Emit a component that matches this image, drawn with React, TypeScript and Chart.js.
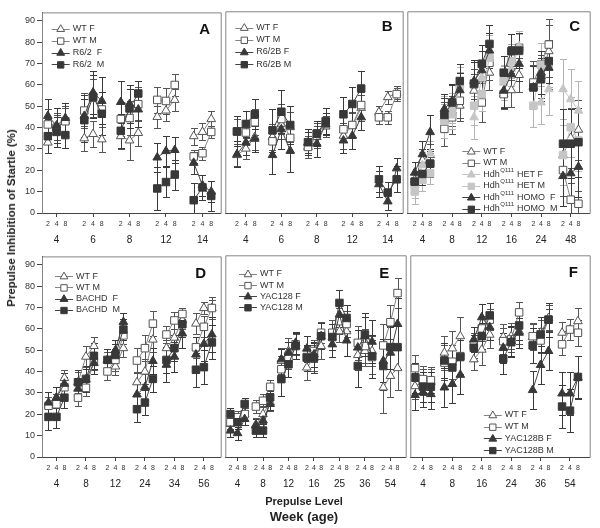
import React, { useEffect, useRef } from "react";
import { Chart, registerables } from "chart.js";

Chart.register(...registerables);

const FONT = "Arial, 'Liberation Sans', Helvetica, sans-serif";

// ---------------- DATA ----------------
const PREPULSE = ["2", "4", "8"];
const Y_TICKS = [0, 10, 20, 30, 40, 50, 60, 70, 80, 90];

// Panel A
const A_weeks = ["4", "6", "8", "12", "14"];
const A_wtF = [33, 40, 43, 35, 37, 34.5, 36, 34, 37.5, 45, 48, 53, 36, 38, 44];
const A_wtM = [41.5, 40, 43, 48, 54, 48.5, 44, 44.5, 51, 53, 52.5, 60, 26.5, 28, 38];
const A_r62F = [45.5, 41, 44.5, 45.5, 56.5, 52.5, 52, 51, 48.5, 26, 29, 29.5, 23.5, 13, 10];
const A_r62M = [36, 38, 36.5, 43.5, 54.5, 46.5, 38.5, 49, 56, 11.5, 14.5, 18, 6, 12, 8];
const A_wtF_e = [5, 6, 6, 6, 6, 6, 6, 9, 6, 5, 5, 5, 4, 4, 4];
const A_wtM_e = [7, 7, 7, 8, 9, 8, 8, 8, 8, 6, 6, 5, 3, 3, 3];
const A_r62F_e = [8, 8, 7, 10, 10, 11, 10, 9, 8, 7, 7, 6, 5, 5, 5];
const A_r62M_e = [8, 7, 6, 10, 10, 10, 8, 9, 6, 10, 7, 7, 8, 6, 7];

// Panel B
const B_weeks = ["4", "6", "8", "12", "14"];
const B_wtF = [27, 30, 35.4, 35.4, 41.5, 40, 30.8, 35.4, 40.3, 36, 40.8, 49, 47, 54, 56];
const B_wtM = [38, 37.5, 42.3, 33.4, 43.8, 35, 30.8, 37, 41.5, 39, 41, 50.3, 44.6, 44.6, 55.4];
const B_r6F = [27.4, 32.8, 34.6, 27, 39, 29, 32.8, 32.3, 41.5, 33.8, 36, 44.6, 13.4, 5.4, 20.8];
const B_r6M = [38, 41.5, 46, 38.5, 47.2, 41, 33, 37, 42.8, 46, 50.8, 58, 15.7, 9.5, 15.7];
const B_wtF_e = [5, 5, 6, 6, 7, 7, 5, 5, 5, 6, 6, 6, 3, 3, 3];
const B_wtM_e = [6, 6, 6, 7, 7, 7, 5, 5, 5, 6, 6, 6, 3, 3, 3];
const B_r6F_e = [6, 6, 6, 9, 9, 10, 5, 6, 5, 6, 6, 6, 6, 4, 5];
const B_r6M_e = [7, 6, 7, 10, 10, 9, 6, 6, 6, 8, 8, 8, 6, 5, 6];

// Panel C
const C_weeks = ["4", "8", "12", "16", "24", "48"];
const C_wtF = [15.4, 24.6, 27, 44.6, 47.7, 50, 57, 62.3, 65.4, 55.4, 57.2, 64.3, 59.2, 63.8, 75.4, 27, 35, 38.8];
const C_wtM = [14.6, 21.5, 23, 39.2, 44.6, 52.3, 60, 51.5, 70, 55.4, 70, 77, 60.8, 69.2, 78.5, 20, 6.2, 4.3];
const C_hetF = [13, 22.3, 27.7, 47.7, 49, 60, 44.6, 63, 73.8, 60.8, 67, 77.7, 50, 51.5, 57.7, 57.7, 53, 47.7];
const C_hetM = [10, 15.4, 18.5, 43, 46, 58.5, 50, 55.4, 72.3, 61.5, 70.8, 75.4, 50, 69, 68.5, 27, 40, 33.8];
const C_homF = [18.8, 27.4, 37.7, 48.5, 52.3, 57.2, 61.5, 66.5, 75.7, 57, 64.6, 69.5, 58.5, 65.4, 67.7, 17.2, 18.5, 21.5];
const C_homM = [14.6, 18.2, 23, 45.7, 51.5, 61.5, 60.3, 69.5, 78.8, 65.4, 75.4, 75.7, 58.5, 62.3, 70.8, 32.3, 32.3, 33];
const C_wtF_e = [4, 5, 5, 7, 7, 7, 8, 8, 8, 6, 8, 8, 10, 10, 12, 14, 14, 14];
const C_wtM_e = [5, 5, 5, 8, 8, 8, 7, 9, 8, 7, 8, 8, 10, 10, 12, 12, 8, 6];
const C_hetF_e = [6, 6, 6, 7, 7, 8, 10, 9, 9, 8, 8, 7, 10, 10, 12, 14, 14, 14];
const C_hetM_e = [6, 5, 5, 8, 7, 7, 9, 8, 8, 7, 8, 8, 10, 10, 10, 14, 14, 14];
const C_homF_e = [5, 6, 8, 7, 8, 8, 10, 9, 8, 8, 8, 8, 10, 10, 10, 14, 14, 14];
const C_homM_e = [5, 5, 6, 8, 8, 8, 10, 9, 9, 8, 8, 8, 10, 10, 10, 16, 16, 16];

// Panel D
const D_weeks = ["4", "8", "12", "24", "34", "56"];
const D_wtF = [24.2, 27.8, 37, 35, 47, 52, 45.2, 42.4, 51, 35, 40, 55, 51, 55.9, 64, 62.5, 69.8, 69.8];
const D_wtM = [24, 24.7, 32.7, 27.8, 32.4, 44.8, 40.1, 45.5, 57, 45.2, 51, 62.5, 57.4, 64, 67, 51.4, 61, 69.8];
const D_bacF = [25.5, 27.8, 34.3, 32, 36.3, 44, 45.5, 50, 63.3, 29.3, 32.7, 45, 43.2, 47, 57.9, 48, 53, 57.4];
const D_bacM = [18.8, 18.8, 27.8, 35, 36.6, 47.4, 45.5, 47.8, 59.7, 22.4, 25.5, 36.6, 45.5, 51, 62.2, 40.9, 42.1, 53.7];
const D_wtF_e = [4, 5, 4, 5, 5, 4, 4, 4, 4, 5, 6, 6, 4, 4, 4, 5, 3, 4];
const D_wtM_e = [4, 5, 5, 4, 4, 4, 4, 5, 4, 6, 6, 6, 4, 4, 3, 5, 5, 5];
const D_bacF_e = [5, 5, 5, 5, 5, 5, 5, 5, 4, 6, 6, 6, 8, 7, 7, 8, 8, 8];
const D_bacM_e = [6, 5, 5, 6, 6, 6, 5, 5, 5, 6, 6, 6, 6, 6, 6, 8, 8, 8];

// Panel E
const E_weeks = ["4", "8", "12", "16", "25", "36", "54"];
const E_wtF = [15.4, 16.2, 20, 15.1, 20, 25.5, 44.8, 49.4, 51.7, 41.7, 46.3, 51.7, 55.9, 58.6, 58.6, 47.5, 49.4, 49.4, 32.4, 37.8, 41.4];
const E_wtM = [16.2, 18.5, 20, 23.5, 26.2, 32.7, 40.9, 45.8, 52.5, 46.6, 49.4, 57.9, 57.9, 63.3, 62, 53.2, 51.7, 46.6, 52, 62.8, 76.4];
const E_yF = [12.3, 11.1, 17.7, 14.7, 17, 24.7, 45.5, 48.6, 53.2, 50.5, 47.8, 56.3, 52.5, 66.4, 54.3, 51, 56.3, 53.7, 44.8, 48.6, 62];
const E_yM = [20, 16.2, 24.7, 12.3, 12.3, 27.8, 36.3, 43.2, 51.7, 46.3, 46.3, 56.3, 55.9, 71.8, 64.8, 42.4, 57.1, 47, 42.4, 51.2, 51.2];
const E_wtF_e = [3, 3, 3, 3, 4, 4, 6, 6, 6, 6, 6, 6, 6, 5, 5, 7, 7, 7, 12, 10, 10];
const E_wtM_e = [3, 3, 3, 3, 3, 3, 6, 5, 5, 5, 5, 5, 6, 6, 6, 8, 8, 8, 10, 8, 7];
const E_yF_e = [3, 3, 3, 3, 3, 3, 5, 5, 5, 6, 6, 6, 6, 6, 7, 8, 9, 10, 10, 12, 12];
const E_yM_e = [3, 3, 3, 3, 3, 3, 8, 6, 6, 6, 7, 6, 6, 6, 6, 10, 10, 10, 11, 10, 10];

// Panel F
const F_weeks = ["4", "8", "16", "24", "36", "54"];
const F_wtF = [33, 35, 35, 48.6, 50.6, 56.3, 45.5, 50, 57, 55.9, 56.3, 58.6, 55.9, 57.9, 64.8, 57.9, 59.4, 63.3];
const F_wtM = [41.4, 36.3, 35.8, 44, 44.4, 47, 52, 59.9, 64, 54, 54.8, 67.4, 56.3, 54.3, 64, 52.5, 59.4, 57.9];
const F_yF = [28.9, 30.1, 29.3, 32.4, 34, 38.3, 54.8, 65.1, 60.5, 50.9, 54, 57.9, 31.2, 42.9, 49.4, 29.6, 29.6, 37];
const F_yM = [37, 32.7, 32.7, 45, 41.7, 46.6, 50.9, 56.3, 66, 45.8, 53.5, 61.3, 52, 57.1, 64, 23.5, 21.6, 37.3];
const F_wtF_e = [6, 6, 6, 8, 8, 9, 5, 7, 6, 6, 6, 6, 6, 6, 6, 5, 5, 6];
const F_wtM_e = [6, 6, 6, 8, 8, 9, 6, 6, 5, 6, 6, 5, 6, 6, 5, 5, 5, 6];
const F_yF_e = [7, 7, 7, 9, 9, 9, 6, 6, 6, 7, 7, 7, 9, 9, 9, 10, 10, 10];
const F_yM_e = [7, 7, 7, 8, 8, 8, 6, 6, 6, 7, 7, 7, 8, 8, 8, 10, 10, 10];

// ---------------- STYLE / CONFIG ----------------
type Kind = "open" | "filled" | "light";
type Shape = "triangle" | "rect";

interface Series {
  label: string;
  shape: Shape;
  kind: Kind;
  means: number[];
  errs: number[];
  hdh?: boolean;
}

const STYLE: Record<Kind, { fill: string; stroke: string; line: string; err: string }> = {
  open: { fill: "#ffffff", stroke: "#555555", line: "#858585", err: "#555555" },
  filled: { fill: "#383838", stroke: "#383838", line: "#444444", err: "#3a3a3a" },
  light: { fill: "#c6c6c6", stroke: "#c6c6c6", line: "#c6c6c6", err: "#b4b4b4" },
};

const S = (label: string, shape: Shape, kind: Kind, means: number[], errs: number[], hdh = false): Series => ({
  label, shape, kind, means, errs, hdh,
});

interface PanelCfg {
  letter: string;
  weeks: string[];
  series: Series[];
  left: number; right: number; top: number; bottom: number;
  xmin: number; xmax: number; off: number;
  showY: boolean;
  lg: { dx: number; dy: number; gap: number };
  lt: { dr: number; dy: number };
}

const PANELS: PanelCfg[] = [
  {
    letter: "A", weeks: A_weeks,
    series: [S("WT F", "triangle", "open", A_wtF, A_wtF_e), S("WT M", "rect", "open", A_wtM, A_wtM_e),
      S("R6/2  F", "triangle", "filled", A_r62F, A_r62F_e), S("R6/2  M", "rect", "filled", A_r62M, A_r62M_e)],
    left: 42, right: 223, top: 9, bottom: 213, xmin: -0.4, xmax: 4.5, off: 0.24, showY: true,
    lg: { dx: 9.7, dy: 16.3, gap: 11.9 }, lt: { dr: 16, dy: 17 },
  },
  {
    letter: "B", weeks: B_weeks,
    series: [S("WT F", "triangle", "open", B_wtF, B_wtF_e), S("WT M", "rect", "open", B_wtM, B_wtM_e),
      S("R6/2B F", "triangle", "filled", B_r6F, B_r6F_e), S("R6/2B M", "rect", "filled", B_r6M, B_r6M_e)],
    left: 223, right: 405, top: 9, bottom: 213, xmin: -0.58, xmax: 4.42, off: 0.25, showY: false,
    lg: { dx: 10, dy: 16.3, gap: 12.2 }, lt: { dr: 15.5, dy: 16 },
  },
  {
    letter: "C", weeks: C_weeks,
    series: [S("WT F", "triangle", "open", C_wtF, C_wtF_e), S("WT M", "rect", "open", C_wtM, C_wtM_e),
      S("HET F", "triangle", "light", C_hetF, C_hetF_e, true), S("HET M", "rect", "light", C_hetM, C_hetM_e, true),
      S("HOMO  F", "triangle", "filled", C_homF, C_homF_e, true), S("HOMO  M", "rect", "filled", C_homM, C_homM_e, true)],
    left: 405, right: 592, top: 9, bottom: 213, xmin: -0.51, xmax: 5.64, off: 0.26, showY: false,
    lg: { dx: 55, dy: 140, gap: 11.5 }, lt: { dr: 15, dy: 16 },
  },
  {
    letter: "D", weeks: D_weeks,
    series: [S("WT F", "triangle", "open", D_wtF, D_wtF_e), S("WT M", "rect", "open", D_wtM, D_wtM_e),
      S("BACHD  F", "triangle", "filled", D_bacF, D_bacF_e), S("BACHD  M", "rect", "filled", D_bacM, D_bacM_e)],
    left: 42, right: 223, top: 253, bottom: 457, xmin: -0.49, xmax: 5.57, off: 0.27, showY: true,
    lg: { dx: 13, dy: 19.7, gap: 11.3 }, lt: { dr: 20, dy: 17 },
  },
  {
    letter: "E", weeks: E_weeks,
    series: [S("WT F", "triangle", "open", E_wtF, E_wtF_e), S("WT M", "rect", "open", E_wtM, E_wtM_e),
      S("YAC128 F", "triangle", "filled", E_yF, E_yF_e), S("YAC128 M", "rect", "filled", E_yM, E_yM_e)],
    left: 223, right: 408, top: 253, bottom: 457, xmin: -0.48, xmax: 6.6, off: 0.28, showY: false,
    lg: { dx: 13.7, dy: 18.7, gap: 11.1 }, lt: { dr: 21.5, dy: 18.5 },
  },
  {
    letter: "F", weeks: F_weeks,
    series: [S("WT F", "triangle", "open", F_wtF, F_wtF_e), S("WT M", "rect", "open", F_wtM, F_wtM_e),
      S("YAC128B F", "triangle", "filled", F_yF, F_yF_e), S("YAC128B M", "rect", "filled", F_yM, F_yM_e)],
    left: 408, right: 592, top: 253, bottom: 457, xmin: -0.43, xmax: 5.67, off: 0.27, showY: false,
    lg: { dx: 73.5, dy: 159.7, gap: 11.7 }, lt: { dr: 16.3, dy: 17.7 },
  },
];

const X1_H = 18;
const X2_H = 17;
const Y_W = 34;

function drawMarker(ctx: CanvasRenderingContext2D, shape: Shape, x: number, y: number, r: number, fill: string, stroke: string) {
  ctx.beginPath();
  if (shape === "rect") {
    const s = r * Math.SQRT1_2;
    ctx.rect(x - s, y - s, 2 * s, 2 * s);
  } else {
    for (let k = 0; k < 3; k++) {
      const a = (k * 2 * Math.PI) / 3;
      const px = x + Math.sin(a) * r;
      const py = y - Math.cos(a) * r;
      if (k === 0) ctx.moveTo(px, py);
      else ctx.lineTo(px, py);
    }
    ctx.closePath();
  }
  ctx.fillStyle = fill;
  ctx.fill();
  ctx.strokeStyle = stroke;
  ctx.lineWidth = 1;
  ctx.stroke();
}

function decorPlugin(cfg: PanelCfg) {
  return {
    id: "decor" + cfg.letter,
    beforeDatasetsDraw(chart: any) {
      const ctx: CanvasRenderingContext2D = chart.ctx;
      const a = chart.chartArea;
      const xs = chart.scales.x;
      const ys = chart.scales.y;
      ctx.save();
      ctx.beginPath();
      ctx.rect(a.left, a.top, a.right - a.left, a.bottom - a.top);
      ctx.clip();
      ctx.lineWidth = 1;
      chart.data.datasets.forEach((ds: any) => {
        ctx.strokeStyle = ds.errColor;
        ds.data.forEach((p: any, j: number) => {
          if (p.y == null) return;
          const e = ds.errs[j];
          const x = Math.round(xs.getPixelForValue(p.x)) + 0.5;
          const y1 = Math.round(ys.getPixelForValue(p.y + e)) + 0.5;
          const y2 = Math.round(ys.getPixelForValue(p.y - e)) + 0.5;
          ctx.beginPath();
          ctx.moveTo(x, y1);
          ctx.lineTo(x, y2);
          ctx.moveTo(x - 3.5, y1);
          ctx.lineTo(x + 3.5, y1);
          ctx.moveTo(x - 3.5, y2);
          ctx.lineTo(x + 3.5, y2);
          ctx.stroke();
        });
      });
      ctx.restore();
    },
    afterDatasetsDraw(chart: any) {
      const ctx: CanvasRenderingContext2D = chart.ctx;
      const a = chart.chartArea;
      ctx.save();
      // frame
      ctx.strokeStyle = "#858585";
      ctx.lineWidth = 1;
      ctx.beginPath();
      ctx.moveTo(a.left + 0.5, a.bottom + 0.5);
      ctx.lineTo(a.left + 0.5, a.top + 0.5);
      ctx.lineTo(a.right + 0.5, a.top + 0.5);
      ctx.lineTo(a.right + 0.5, a.bottom + 0.5);
      ctx.stroke();
      // legend
      const lx = a.left + cfg.lg.dx;
      cfg.series.forEach((s, i) => {
        const st = STYLE[s.kind];
        const y = a.top + cfg.lg.dy + i * cfg.lg.gap;
        ctx.strokeStyle = st.line;
        ctx.lineWidth = 1;
        ctx.beginPath();
        ctx.moveTo(lx, Math.round(y) + 0.5);
        ctx.lineTo(lx + 18, Math.round(y) + 0.5);
        ctx.stroke();
        drawMarker(ctx, s.shape, lx + 9, y + 0.5, 4.5, st.fill, st.stroke);
        ctx.fillStyle = "#333333";
        ctx.textBaseline = "middle";
        ctx.textAlign = "left";
        let tx = lx + 21;
        if (s.hdh) {
          ctx.font = `9px ${FONT}`;
          ctx.fillText("Hdh", tx, y);
          tx += ctx.measureText("Hdh").width + 0.5;
          ctx.font = `6px ${FONT}`;
          ctx.fillText("Q111", tx, y - 4);
          tx += ctx.measureText("Q111").width + 3;
        }
        ctx.font = `9px ${FONT}`;
        ctx.fillText(s.label, tx, y);
      });
      // panel letter
      ctx.font = `bold 15px ${FONT}`;
      ctx.fillStyle = "#111111";
      ctx.textAlign = "center";
      ctx.textBaseline = "middle";
      ctx.fillText(cfg.letter, a.right - cfg.lt.dr, a.top + cfg.lt.dy);
      ctx.restore();
    },
  };
}

function buildSeriesData(s: Series, nGroups: number, off: number) {
  const data: { x: number; y: number | null }[] = [];
  const errs: (number | null)[] = [];
  for (let g = 0; g < nGroups; g++) {
    for (let j = 0; j < 3; j++) {
      data.push({ x: g + (j - 1) * off, y: s.means[g * 3 + j] });
      errs.push(s.errs[g * 3 + j]);
    }
    if (g < nGroups - 1) {
      data.push({ x: g + 0.5, y: null });
      errs.push(null);
    }
  }
  return { data, errs };
}

function Panel({ cfg }: { cfg: PanelCfg }) {
  const ref = useRef<HTMLCanvasElement>(null);
  const padL = cfg.showY ? 2 : 4;
  const cLeft = cfg.left - (cfg.showY ? Y_W + padL : padL);
  const cTop = cfg.top - 4;
  const cW = cfg.right + 4 - cLeft;
  const cH = cfg.bottom + X1_H + X2_H + 3 - cTop;

  useEffect(() => {
    const n = cfg.weeks.length;
    const tickVals: number[] = [];
    for (let g = 0; g < n; g++) for (let j = 0; j < 3; j++) tickVals.push(g + (j - 1) * cfg.off);
    const ns = cfg.series.length;
    const datasets = cfg.series.map((s, i) => {
      const st = STYLE[s.kind];
      const { data, errs } = buildSeriesData(s, n, cfg.off);
      return {
        label: s.label,
        data,
        errs,
        errColor: st.err,
        borderColor: st.line,
        borderWidth: 1,
        backgroundColor: st.fill,
        pointStyle: s.shape,
        pointRadius: s.shape === "rect" ? 5.3 : 5,
        pointBackgroundColor: st.fill,
        pointBorderColor: st.stroke,
        pointBorderWidth: 1,
        spanGaps: false,
        tension: 0,
        fill: false,
        order: ns - i,
      };
    });
    const chart = new Chart(ref.current as HTMLCanvasElement, {
      type: "line",
      data: { datasets } as any,
      options: {
        animation: false,
        responsive: false,
        maintainAspectRatio: false,
        devicePixelRatio: 1,
        events: [],
        layout: { padding: { left: padL, top: 4, right: 4, bottom: 3 } },
        plugins: { legend: { display: false }, tooltip: { enabled: false } },
        scales: {
          x: {
            type: "linear",
            position: "bottom",
            min: cfg.xmin,
            max: cfg.xmax,
            weight: 0,
            afterBuildTicks: (sc: any) => {
              sc.ticks = tickVals.map((v) => ({ value: v }));
            },
            afterFit: (sc: any) => {
              sc.height = X1_H;
            },
            ticks: {
              autoSkip: false,
              maxRotation: 0,
              minRotation: 0,
              padding: 3,
              color: "#333333",
              font: { family: FONT, size: 7 },
              callback: (_v: any, i: number) => PREPULSE[i % 3],
            },
            grid: {
              drawOnChartArea: false,
              drawTicks: true,
              tickLength: 4,
              color: (c: any) => (c.index % 3 === 1 ? "#444444" : "rgba(0,0,0,0)"),
            },
            border: { display: true, color: "#444444" },
          },
          x2: {
            type: "linear",
            position: "bottom",
            min: cfg.xmin,
            max: cfg.xmax,
            weight: 1,
            afterBuildTicks: (sc: any) => {
              sc.ticks = cfg.weeks.map((_w, g) => ({ value: g }));
            },
            afterFit: (sc: any) => {
              sc.height = X2_H;
            },
            ticks: {
              autoSkip: false,
              maxRotation: 0,
              minRotation: 0,
              padding: 3,
              color: "#222222",
              font: { family: FONT, size: 10 },
              callback: (_v: any, i: number) => cfg.weeks[i],
            },
            grid: { display: false, drawTicks: false },
            border: { display: false },
          },
          y: {
            type: "linear",
            display: cfg.showY,
            min: 0,
            max: 94,
            afterBuildTicks: (sc: any) => {
              sc.ticks = Y_TICKS.map((v) => ({ value: v }));
            },
            afterFit: (sc: any) => {
              if (cfg.showY) sc.width = Y_W;
            },
            ticks: {
              padding: 2,
              color: "#333333",
              font: { family: FONT, size: 9 },
            },
            grid: { drawOnChartArea: false, drawTicks: true, tickLength: 5, color: "#444444" },
            border: { display: true, color: "#444444" },
          },
        },
      } as any,
      plugins: [decorPlugin(cfg)],
    });
    return () => chart.destroy();
  }, []);

  return (
    <canvas
      ref={ref}
      width={cW}
      height={cH}
      style={{ position: "absolute", left: cLeft, top: cTop, width: cW, height: cH }}
    />
  );
}

export default function App() {
  return (
    <div style={{ position: "absolute", left: 0, top: 0, width: 600, height: 528, background: "#ffffff", overflow: "hidden" }}>
      {PANELS.map((p) => (
        <Panel key={p.letter} cfg={p} />
      ))}
      <div
        style={{
          position: "absolute",
          left: 11,
          top: 218,
          transform: "translate(-50%, -50%) rotate(-90deg)",
          whiteSpace: "nowrap",
          font: `bold 11.5px ${FONT}`,
          color: "#222",
        }}
      >
        Prepulse Inhibition of Startle (%)
      </div>
      <div
        style={{
          position: "absolute",
          left: 304,
          top: 500.5,
          transform: "translate(-50%, -50%)",
          whiteSpace: "nowrap",
          font: `bold 11px ${FONT}`,
          color: "#222",
        }}
      >
        Prepulse Level
      </div>
      <div
        style={{
          position: "absolute",
          left: 304,
          top: 515.5,
          transform: "translate(-50%, -50%)",
          whiteSpace: "nowrap",
          font: `bold 13px ${FONT}`,
          color: "#222",
        }}
      >
        Week (age)
      </div>
    </div>
  );
}
